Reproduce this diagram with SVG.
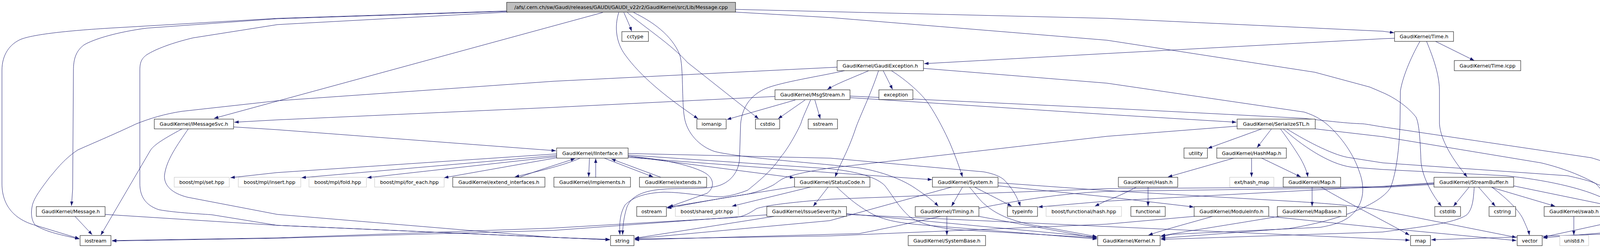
<svg xmlns="http://www.w3.org/2000/svg" width="4246" height="635" viewBox="0 0 4246 635">
<style>
.n rect{fill:#fff;stroke:#000;stroke-width:1}
.g rect{stroke:#bfbfbf}
.m rect{fill:#bfbfbf}
text{font-family:"DejaVu Sans","Liberation Sans",sans-serif;font-size:12.7px;text-anchor:middle;fill:#000}
#edges path{fill:none;stroke:#191970;stroke-width:1;marker-end:url(#a)}
</style>
<defs>
<marker id="a" markerWidth="11" markerHeight="8" refX="11" refY="4" orient="auto" markerUnits="userSpaceOnUse"><path d="M0,0 L11,4 L0,8 z" fill="#191970"/></marker>
</defs>
<rect width="4246" height="635" fill="#fff"/>
<g id="edges">
<path d="M1300,28 L710,47 L281,72 C150,80 82,90 55,100 C25,112 5,140 5,180 L5,470 C5,520 30,560 91,577 L203,611"/>
<path d="M1300,29 L710,48 L376,72 C300,82 240,100 215,115 C195,130 188,150 188,180 L186,484 L183,527"/>
<path d="M1300,31 L710,63 L494,97 C440,110 400,125 376,140 C362,150 358,160 358,180 L358,470 C358,500 370,525 407,537 C450,545 520,548 543,550 L710,577 L1561,614"/>
<path d="M1543,32 L548,303"/>
<path d="M1597,32 C1605,50 1612,65 1617,80"/>
<path d="M1584,32 C1572,70 1578,110 1600,140 C1640,195 1700,245 1787,304"/>
<path d="M1606,32 C1650,70 1720,115 1760,160 L1942,304"/>
<path d="M1622,32 C1670,55 1720,90 1740,140 C1750,170 1745,260 1752,300 C1758,340 1790,375 1830,388 C1900,405 2100,418 2201,430 C2260,440 2310,460 2340,480 C2370,500 2390,515 2402,528"/>
<path d="M1883,24 L2834,47 L3540,80 L3569,84"/>
<path d="M1883,31 L2126,45 L2834,103 L3366,185 L3507,223 L3542,238 C3580,255 3610,280 3625,300 C3635,320 3636,380 3638,417 C3642,450 3660,490 3690,528"/>
<path d="M466,330 C420,355 395,370 385,385 L258,602"/>
<path d="M482,330 C455,370 425,410 421,450 C420,475 440,495 480,505 L710,549 L1418,608 L1561,613"/>
<path d="M598,325 L708,332 L1423,386"/>
<path d="M192,554 L236,601"/>
<path d="M269,549 L710,577 L1561,614"/>
<path d="M2143,172 L1418,208 L710,258 L466,285 C420,292 385,303 349,317 C290,345 230,370 199,384 C160,410 140,440 127,454 C100,490 85,510 82,530 C79,545 80,565 91,577 C120,595 160,602 203,612"/>
<path d="M1984,247 L1416,275 L708,307 L600,313"/>
<path d="M2036,256 L1861,306"/>
<path d="M2061,256 L1992,304"/>
<path d="M2086,256 L2100,304"/>
<path d="M2075,256 C2065,280 2055,300 2050,317 C2035,350 2010,390 2000,400 C1980,430 1960,450 1914,487 C1880,500 1860,503 1842,504 C1800,503 1750,492 1700,492 C1650,494 1620,505 1600,525 C1588,545 1585,570 1587,601"/>
<path d="M2162,181 C2100,195 2000,210 1959,227 C1920,245 1900,275 1896,317 L1893,410 C1890,440 1870,470 1830,478 C1790,486 1740,480 1690,485 C1640,490 1615,505 1605,530 C1597,555 1594,580 1594,601"/>
<path d="M2224,181 C2180,200 2140,215 2118,229"/>
<path d="M2261,181 L2285,229"/>
<path d="M2249,181 C2230,240 2200,300 2190,330 C2170,390 2150,420 2138,453"/>
<path d="M2282,181 C2320,205 2360,240 2378,267 C2400,300 2420,340 2432,367 C2450,410 2460,440 2464,453"/>
<path d="M2364,175 L2834,213 L3339,287 C3370,297 3390,310 3410,330 C3450,370 3470,410 3480,440 C3495,480 3490,515 3470,540 C3450,565 3420,575 3380,582 L3000,600 L2972,606"/>
<path d="M3570,98 L3542,99 L2834,137 L2366,163"/>
<path d="M3675,106 L3774,155"/>
<path d="M3652,106 C3670,150 3684,190 3685,230 L3685,317 C3688,360 3720,410 3756,453"/>
<path d="M3635,106 C3610,150 3590,200 3585,233 L3584,317 C3582,380 3575,440 3560,480 C3530,530 3400,570 3300,585 L2972,610"/>
<path d="M3671,468 L3542,477 L2834,515 L2658,530"/>
<path d="M3671,470 L3542,478 L2834,483 L2126,510 C2000,520 1960,527 1937,534 C1920,545 1905,555 1880,557 L1416,584 L710,609 L287,616"/>
<path d="M3671,472 L3542,480 L2834,490 C2600,500 2400,560 2200,598 L1625,614"/>
<path d="M3761,479 L3721,528"/>
<path d="M3785,479 L3828,528"/>
<path d="M3819,479 C3860,510 3890,540 3900,563 C3910,585 3914,595 3915,602"/>
<path d="M3819,480 L3981,528"/>
<path d="M3875,476 L4133,529"/>
<path d="M3774,479 C3772,510 3770,535 3755,550 C3720,575 3600,585 3540,594 L2972,613"/>
<path d="M4029,554 L4029,602"/>
<path d="M3230,330 L3092,380"/>
<path d="M3255,330 L3218,378"/>
<path d="M3278,330 C3300,360 3320,390 3330,407 C3340,425 3346,440 3348,453"/>
<path d="M3167,323 L2834,349 L2126,430 C2060,440 2020,450 2005,457 C1990,465 1985,472 1973,477 C1950,488 1930,493 1914,497 L1707,531"/>
<path d="M3367,330 L3540,350 L3945,417 C4000,430 4050,450 4085,470 C4110,480 4125,485 4139,490 C4160,505 4178,520 4184,530 C4190,540 4190,550 4188,547 C4170,560 4150,565 4121,570 L3951,607"/>
<path d="M3294,330 C3350,365 3420,400 3457,404 L3540,417 L4013,450 C4050,458 4075,465 4085,470 C4105,490 4115,510 4127,529"/>
<path d="M3285,330 C3330,370 3400,420 3460,428 L3540,434 L3855,450 C3950,460 4050,480 4110,510 C4170,540 4200,560 4202,575 C4200,590 4180,595 4150,598 L3664,614"/>
<path d="M2176,246 L2834,277 L3339,303 C3400,310 3450,316 3489,317 C3500,318 3520,322 3540,325 L4074,404 C4110,415 4140,425 4160,440 C4185,463 4200,490 4214,533 C4228,580 4246,600 4230,600 C4210,602 4180,596 4130,594 L3950,609"/>
<path d="M2176,250 L2834,293 L3165,313"/>
<path d="M3158,405 L2990,453"/>
<path d="M3204,405 L3204,453"/>
<path d="M3230,405 L3330,453"/>
<path d="M2939,479 L2939,528"/>
<path d="M2909,479 C2880,495 2850,508 2832,514 L2803,528"/>
<path d="M3359,479 L3359,528"/>
<path d="M3382,479 C3450,520 3540,563 3608,602"/>
<path d="M3274,554 C3150,575 3050,590 2972,604"/>
<path d="M3104,554 C3050,570 2990,585 2940,602"/>
<path d="M3057,554 L2832,574 L2126,604 L1625,612"/>
<path d="M3248,554 L3542,584 L3882,616"/>
<path d="M2555,476 L2834,504 L3056,530"/>
<path d="M2555,468 L2834,488 L3300,515 C3420,522 3500,530 3540,540 L3882,608"/>
<path d="M2464,479 L2436,528"/>
<path d="M2495,479 L2590,528"/>
<path d="M2482,479 C2500,500 2510,515 2522,524 C2540,540 2560,550 2577,557 C2610,570 2640,576 2667,580 L2808,606"/>
<path d="M2436,479 L2124,565 L1625,611"/>
<path d="M2424,554 L2424,602"/>
<path d="M2506,554 L2808,610"/>
<path d="M2034,478 L1851,507 L1708,533"/>
<path d="M2075,479 L1874,528"/>
<path d="M2120,479 L2082,528"/>
<path d="M2142,479 C2165,500 2190,525 2237,550 C2270,565 2300,570 2350,575 L2808,612"/>
<path d="M1982,554 L1625,610"/>
<path d="M1963,550 L1416,590 L710,610 L287,617"/>
<path d="M2167,547 L2808,607"/>
<path d="M2167,549 L2832,580 L3542,612 L3609,615"/>
<path d="M1425,394 L708,442 L590,455"/>
<path d="M1425,398 L772,455"/>
<path d="M1425,401 L940,455"/>
<path d="M1425,404 L1137,455"/>
<path d="M1485,405 C1440,425 1370,440 1318,453"/>
<path d="M1330,454 C1380,435 1430,420 1472,406"/>
<path d="M1509,405 L1507,453"/>
<path d="M1525,454 L1525,406"/>
<path d="M1547,405 L1672,453"/>
<path d="M1692,454 L1565,407"/>
<path d="M1608,400 C1680,405 1760,420 1800,440 C1830,455 1830,480 1810,495 L1712,530"/>
<path d="M1608,400 L2033,455"/>
<path d="M1608,393 L2126,405 L2518,440 C2545,445 2560,452 2570,460 C2590,480 2605,505 2612,528"/>
<path d="M1608,403 L2124,442 L2386,460"/>
<path d="M1608,397 L2124,432 C2200,440 2245,455 2265,475 C2285,500 2300,530 2330,556 C2360,575 2400,583 2450,588 L2808,609"/>
</g>
<g id="n-main" class="n m"><rect x="1297" y="6" width="586" height="25"/><text x="1590" y="23">/afs/.cern.ch/sw/Gaudi/releases/GAUDI/GAUDI_v22r2/GaudiKernel/src/Lib/Message.cpp</text></g>
<g id="n-cctype" class="n"><rect x="1592" y="81" width="68" height="25"/><text x="1626" y="98">cctype</text></g>
<g id="n-time-h" class="n"><rect x="3570" y="81" width="151" height="25"/><text x="3645.5" y="98">GaudiKernel/Time.h</text></g>
<g id="n-gaudiexception" class="n"><rect x="2143" y="155" width="221" height="26"/><text x="2253.5" y="172.5">GaudiKernel/GaudiException.h</text></g>
<g id="n-time-icpp" class="n"><rect x="3723" y="155" width="170" height="26"/><text x="3808" y="172.5">GaudiKernel/Time.icpp</text></g>
<g id="n-msgstream" class="n"><rect x="1984" y="230" width="192" height="25"/><text x="2080" y="247">GaudiKernel/MsgStream.h</text></g>
<g id="n-exception" class="n"><rect x="2250" y="230" width="87" height="25"/><text x="2293.5" y="247">exception</text></g>
<g id="n-imessagesvc" class="n"><rect x="395" y="305" width="203" height="25"/><text x="496.5" y="322">GaudiKernel/IMessageSvc.h</text></g>
<g id="n-iomanip" class="n"><rect x="1784" y="305" width="75" height="25"/><text x="1821.5" y="322">iomanip</text></g>
<g id="n-cstdio" class="n"><rect x="1934" y="305" width="62" height="25"/><text x="1965" y="322">cstdio</text></g>
<g id="n-sstream" class="n"><rect x="2069" y="305" width="75" height="25"/><text x="2106.5" y="322">sstream</text></g>
<g id="n-serializestl" class="n"><rect x="3167" y="305" width="200" height="25"/><text x="3267" y="322">GaudiKernel/SerializeSTL.h</text></g>
<g id="n-iinterface" class="n"><rect x="1425" y="379" width="183" height="26"/><text x="1516.5" y="396.5">GaudiKernel/IInterface.h</text></g>
<g id="n-utility" class="n"><rect x="3031" y="379" width="60" height="26"/><text x="3061" y="396.5">utility</text></g>
<g id="n-hashmap" class="n"><rect x="3115" y="379" width="178" height="26"/><text x="3204" y="396.5">GaudiKernel/HashMap.h</text></g>
<g id="n-mpl-set" class="n g"><rect x="446" y="454" width="141" height="25"/><text x="516.5" y="471">boost/mpl/set.hpp</text></g>
<g id="n-mpl-insert" class="n g"><rect x="610" y="454" width="160" height="25"/><text x="690" y="471">boost/mpl/insert.hpp</text></g>
<g id="n-mpl-fold" class="n g"><rect x="791" y="454" width="147" height="25"/><text x="864.5" y="471">boost/mpl/fold.hpp</text></g>
<g id="n-mpl-foreach" class="n g"><rect x="959" y="454" width="178" height="25"/><text x="1048" y="471">boost/mpl/for_each.hpp</text></g>
<g id="n-extend-interfaces" class="n"><rect x="1159" y="454" width="236" height="25"/><text x="1277" y="471">GaudiKernel/extend_interfaces.h</text></g>
<g id="n-implements" class="n"><rect x="1418" y="454" width="196" height="25"/><text x="1516" y="471">GaudiKernel/implements.h</text></g>
<g id="n-extends" class="n"><rect x="1637" y="454" width="172" height="25"/><text x="1723" y="471">GaudiKernel/extends.h</text></g>
<g id="n-statuscode" class="n"><rect x="2034" y="454" width="193" height="25"/><text x="2130.5" y="471">GaudiKernel/StatusCode.h</text></g>
<g id="n-system" class="n"><rect x="2387" y="454" width="168" height="25"/><text x="2471" y="471">GaudiKernel/System.h</text></g>
<g id="n-hash" class="n"><rect x="2863" y="454" width="152" height="25"/><text x="2939" y="471">GaudiKernel/Hash.h</text></g>
<g id="n-ext-hash-map" class="n g"><rect x="3148" y="454" width="113" height="25"/><text x="3204.5" y="471">ext/hash_map</text></g>
<g id="n-map-h" class="n"><rect x="3285" y="454" width="147" height="25"/><text x="3358.5" y="471">GaudiKernel/Map.h</text></g>
<g id="n-streambuffer" class="n"><rect x="3671" y="454" width="204" height="25"/><text x="3773" y="471">GaudiKernel/StreamBuffer.h</text></g>
<g id="n-message-h" class="n"><rect x="93" y="529" width="176" height="25"/><text x="181" y="546">GaudiKernel/Message.h</text></g>
<g id="n-ostream" class="n"><rect x="1630" y="529" width="76" height="25"/><text x="1668" y="546">ostream</text></g>
<g id="n-shared-ptr" class="n g"><rect x="1729" y="529" width="161" height="25"/><text x="1809.5" y="546">boost/shared_ptr.hpp</text></g>
<g id="n-issueseverity" class="n"><rect x="1963" y="529" width="204" height="25"/><text x="2065" y="546">GaudiKernel/IssueSeverity.h</text></g>
<g id="n-timing" class="n"><rect x="2343" y="529" width="163" height="25"/><text x="2424.5" y="546">GaudiKernel/Timing.h</text></g>
<g id="n-typeinfo" class="n"><rect x="2579" y="529" width="77" height="25"/><text x="2617.5" y="546">typeinfo</text></g>
<g id="n-functional-hash" class="n g"><rect x="2678" y="529" width="193" height="25"/><text x="2774.5" y="546">boost/functional/hash.hpp</text></g>
<g id="n-functional" class="n"><rect x="2895" y="529" width="88" height="25"/><text x="2939" y="546">functional</text></g>
<g id="n-moduleinfo" class="n"><rect x="3057" y="529" width="191" height="25"/><text x="3152.5" y="546">GaudiKernel/ModuleInfo.h</text></g>
<g id="n-mapbase" class="n"><rect x="3270" y="529" width="177" height="25"/><text x="3358.5" y="546">GaudiKernel/MapBase.h</text></g>
<g id="n-cstdlib" class="n"><rect x="3673" y="529" width="66" height="25"/><text x="3706" y="546">cstdlib</text></g>
<g id="n-cstring" class="n"><rect x="3812" y="529" width="68" height="25"/><text x="3846" y="546">cstring</text></g>
<g id="n-swab" class="n"><rect x="3953" y="529" width="153" height="25"/><text x="4029.5" y="546">GaudiKernel/swab.h</text></g>
<g id="n-list" class="n"><rect x="4129" y="529" width="41" height="25"/><text x="4149.5" y="546">list</text></g>
<g id="n-iostream" class="n"><rect x="205" y="603" width="79" height="26"/><text x="244.5" y="620.5">iostream</text></g>
<g id="n-string" class="n"><rect x="1563" y="603" width="60" height="26"/><text x="1593" y="620.5">string</text></g>
<g id="n-systembase" class="n"><rect x="2325" y="603" width="198" height="26"/><text x="2424" y="620.5">GaudiKernel/SystemBase.h</text></g>
<g id="n-kernel" class="n"><rect x="2810" y="603" width="160" height="26"/><text x="2890" y="620.5">GaudiKernel/Kernel.h</text></g>
<g id="n-map" class="n"><rect x="3611" y="603" width="51" height="26"/><text x="3636.5" y="620.5">map</text></g>
<g id="n-vector" class="n"><rect x="3884" y="603" width="64" height="26"/><text x="3916" y="620.5">vector</text></g>
<g id="n-unistd" class="n g"><rect x="3993" y="603" width="74" height="26"/><text x="4030" y="620.5">unistd.h</text></g>
</svg>
